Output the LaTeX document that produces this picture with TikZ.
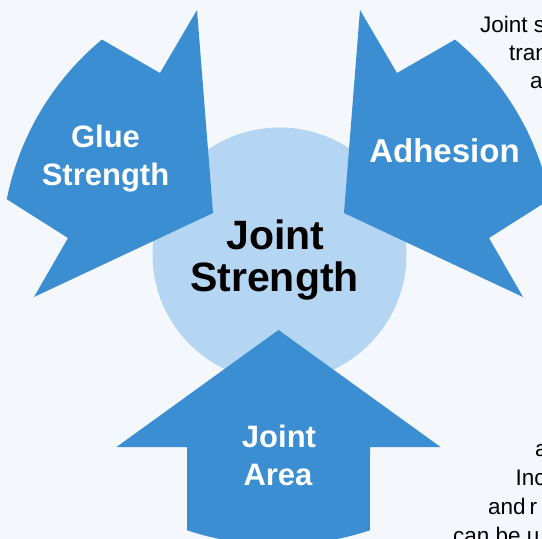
\documentclass[tikz,border=0pt]{standalone}
\usepackage{fontspec}
\setmainfont{Liberation Sans}
\definecolor{bgcol}{HTML}{F4F8FC}
\definecolor{arrowblue}{HTML}{3A8ED1}
\definecolor{hubblue}{HTML}{B4D6F3}
\begin{document}
\begin{tikzpicture}[x=1pt,y=-1pt,
  bigarrow/.style={fill=arrowblue,draw=none},
  armlabel/.style={text=white,anchor=base,inner sep=0pt,font=\fontsize{31}{31}\selectfont\bfseries},
  hublabel/.style={text=black,anchor=base,inner sep=0pt,font=\fontsize{41}{41}\selectfont\bfseries},
  sidetext/.style={text=black,anchor=base west,inner sep=0pt,font=\fontsize{22.5}{22.5}\selectfont}]
\useasboundingbox (0,0) rectangle (542,539);
\clip (0,0) rectangle (542,539);
\fill[bgcol] (0,0) rectangle (542,539);
\coordinate (c) at (278.5,253);
% hub circle
\node[circle,fill=hubblue,minimum size=254pt,inner sep=0pt] (hub) at (279.5,254.5) {};
% Glue Strength arrow
\fill[bigarrow] (213,213) -- (197,10) -- (160,73)
  -- ([shift={(c)}]-129.6:277) arc[start angle=-129.6,end angle=-168.8,radius=277]
  -- (68,238) -- (34,297) -- cycle;
% Adhesion arrow
\fill[bigarrow] (344,213) -- (360,10) -- (397,73)
  -- ([shift={(c)}]-50.4:277) arc[start angle=-50.4,end angle=-11.2,radius=277]
  -- (489,238) -- (523,297) -- cycle;
% Joint Area arrow
\fill[bigarrow] (278.5,330) -- (440.5,447) -- (370,447)
  -- ([shift={(c)}]71.74:292) arc[start angle=71.74,end angle=108.26,radius=292]
  -- (187,447) -- (116.5,447) -- cycle;
% labels
\node[hublabel] (hubA) at (275.5,249) {Joint};
\node[hublabel] (hubB) at (274.5,291) {Strength};
\node[armlabel] (glueA) at (105.5,147) {Glue};
\node[armlabel] (glueB) at (105.5,185) {Strength};
\node[armlabel,font=\fontsize{33}{33}\selectfont\bfseries] (adh) at (444.5,162) {Adhesion};
\node[armlabel] (areaA) at (279,447) {Joint};
\node[armlabel] (areaB) at (278,485) {Area};
% side texts (cut off at the right edge)
\node[sidetext] (t1) at (480,32) {Joint s};
\node[sidetext] (t2) at (509,60) {tran};
\node[sidetext] (t3) at (530,88) {a};
\node[sidetext] (b1) at (535,456) {a};
\node[sidetext] (b2) at (515.5,485) {Inc};
\node[sidetext] (b3) at (488,514) {and\hspace{4pt}r};
\node[sidetext] (b4) at (453,543) {can be u};
\end{tikzpicture}
\end{document}
